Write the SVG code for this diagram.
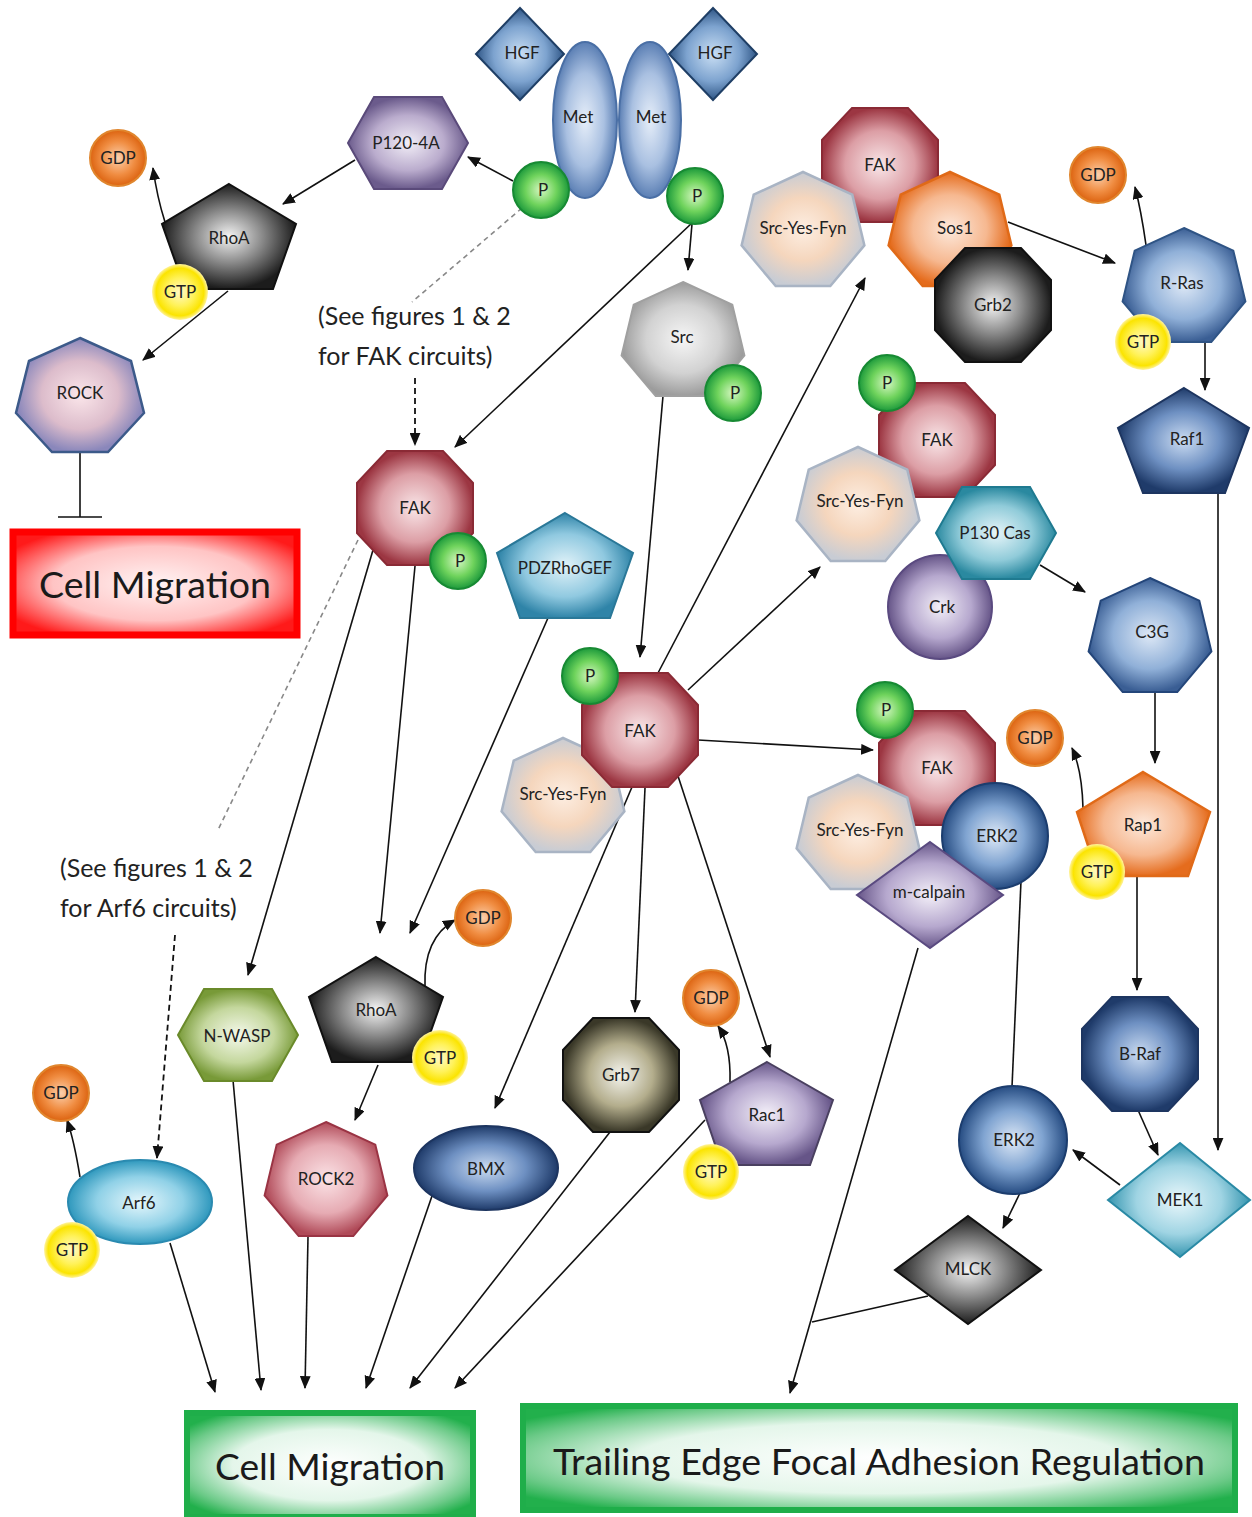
<svg xmlns="http://www.w3.org/2000/svg" xmlns:xlink="http://www.w3.org/1999/xlink" width="1252" height="1517" viewBox="0 0 1252 1517">
<style>
.lbl{font-family:Lato,"Open Sans","Liberation Sans",sans-serif;font-size:17px;fill:#222;text-anchor:middle}
.note{font-family:Lato,"Open Sans","Liberation Sans",sans-serif;font-size:25px;fill:#222}
.big{font-family:Lato,"Open Sans","Liberation Sans",sans-serif;font-size:37px;fill:#1a1a1a;text-anchor:middle}
.ar{fill:none;stroke:#111;stroke-width:1.6;marker-end:url(#ah)}
.ln{fill:none;stroke:#111;stroke-width:1.6}
.dg{fill:none;stroke:#888;stroke-width:1.6;stroke-dasharray:5 4}
.db{fill:none;stroke:#111;stroke-width:1.8;stroke-dasharray:6 4;marker-end:url(#ah)}
</style>
<defs>
<marker id="ah" viewBox="0 0 12 10" refX="11" refY="5" markerWidth="13" markerHeight="11" markerUnits="userSpaceOnUse" orient="auto">
<path d="M0,0 L12,5 L0,10 Z" fill="#111"/>
</marker>
<polygon id="oct" points="-28,-57 28,-57 58,-25 58,25 28,57 -28,57 -58,25 -58,-25"/>
<polygon id="hept" points="0,-60 49.3,-37.4 61.4,13.4 27.3,54.1 -27.3,54.1 -61.4,13.4 -49.3,-37.4"/>
<polygon id="pent" points="0,-58 67,-18 44,47 -44,47 -67,-18"/>
<polygon id="hex" points="-60,0 -34,-46 34,-46 60,0 34,46 -34,46"/>
<circle id="sm" r="28"/>
<radialGradient id="gFAK"><stop offset="0" stop-color="#f9e6e8"/><stop offset="0.6" stop-color="#dc9ea5"/><stop offset="1" stop-color="#9c3642"/></radialGradient>
<radialGradient id="gSYF"><stop offset="0" stop-color="#fdeee2"/><stop offset="0.55" stop-color="#f5d6bd"/><stop offset="1" stop-color="#c8ccd4"/></radialGradient>
<radialGradient id="gSos"><stop offset="0" stop-color="#fde9dc"/><stop offset="0.6" stop-color="#f6b890"/><stop offset="1" stop-color="#e56c1d"/></radialGradient>
<radialGradient id="gBlk"><stop offset="0" stop-color="#f4f4f4"/><stop offset="0.5" stop-color="#8a8a8a"/><stop offset="1" stop-color="#1c1c1c"/></radialGradient>
<radialGradient id="gBlue"><stop offset="0" stop-color="#dde8f6"/><stop offset="0.6" stop-color="#90b0d8"/><stop offset="1" stop-color="#3a5e94"/></radialGradient>
<radialGradient id="gDBlue"><stop offset="0" stop-color="#cbdcf2"/><stop offset="0.55" stop-color="#6e90c2"/><stop offset="1" stop-color="#1f3b6a"/></radialGradient>
<radialGradient id="gGDP"><stop offset="0" stop-color="#fcd0ad"/><stop offset="0.6" stop-color="#f08d42"/><stop offset="1" stop-color="#dc6310"/></radialGradient>
<radialGradient id="gGTP"><stop offset="0" stop-color="#fff8c8"/><stop offset="0.5" stop-color="#fff25a"/><stop offset="0.85" stop-color="#fbe400"/><stop offset="1" stop-color="#fff3a0"/></radialGradient>
<radialGradient id="gP"><stop offset="0" stop-color="#d6f7c2"/><stop offset="0.55" stop-color="#6fd35c"/><stop offset="1" stop-color="#1d9a3c"/></radialGradient>
<radialGradient id="gHGF"><stop offset="0" stop-color="#cadff4"/><stop offset="0.6" stop-color="#7da3cf"/><stop offset="1" stop-color="#2f5686"/></radialGradient>
<radialGradient id="gMet"><stop offset="0" stop-color="#e6eef9"/><stop offset="0.6" stop-color="#a9c0e1"/><stop offset="1" stop-color="#5b7fb4"/></radialGradient>
<radialGradient id="gP120"><stop offset="0" stop-color="#f2eef7"/><stop offset="0.6" stop-color="#baaccd"/><stop offset="1" stop-color="#6b5b8c"/></radialGradient>
<radialGradient id="gROCK"><stop offset="0" stop-color="#fbe6ea"/><stop offset="0.6" stop-color="#dcbccb"/><stop offset="1" stop-color="#8a87bb"/></radialGradient>
<radialGradient id="gPDZ"><stop offset="0" stop-color="#e2f3f9"/><stop offset="0.6" stop-color="#90c9e0"/><stop offset="1" stop-color="#2f84a8"/></radialGradient>
<radialGradient id="gP130"><stop offset="0" stop-color="#e6f5f9"/><stop offset="0.6" stop-color="#90cbd9"/><stop offset="1" stop-color="#2a89a0"/></radialGradient>
<radialGradient id="gPur"><stop offset="0" stop-color="#f3eff8"/><stop offset="0.6" stop-color="#b6a8ce"/><stop offset="1" stop-color="#665588"/></radialGradient>
<radialGradient id="gERK"><stop offset="0" stop-color="#dee9f7"/><stop offset="0.55" stop-color="#80a4d1"/><stop offset="1" stop-color="#264c82"/></radialGradient>
<radialGradient id="gMEK"><stop offset="0" stop-color="#eaf7fb"/><stop offset="0.6" stop-color="#9fd4e3"/><stop offset="1" stop-color="#3696b0"/></radialGradient>
<radialGradient id="gNW"><stop offset="0" stop-color="#f5f9ec"/><stop offset="0.6" stop-color="#c4d79d"/><stop offset="1" stop-color="#789a38"/></radialGradient>
<radialGradient id="gArf"><stop offset="0" stop-color="#e6f7fc"/><stop offset="0.6" stop-color="#90d1e7"/><stop offset="1" stop-color="#2f98bd"/></radialGradient>
<radialGradient id="gGrb7"><stop offset="0" stop-color="#f5f5ef"/><stop offset="0.55" stop-color="#b3ad8c"/><stop offset="1" stop-color="#3a3828"/></radialGradient>
<radialGradient id="gROCK2"><stop offset="0" stop-color="#fbe3e6"/><stop offset="0.6" stop-color="#e6abb3"/><stop offset="1" stop-color="#b04a58"/></radialGradient>
<radialGradient id="gSrc"><stop offset="0" stop-color="#f6f6f6"/><stop offset="0.6" stop-color="#d2d2d2"/><stop offset="1" stop-color="#9c9c9c"/></radialGradient>
<radialGradient id="gRed" r="0.6"><stop offset="0" stop-color="#fff4f4"/><stop offset="0.6" stop-color="#ffc4c4"/><stop offset="0.85" stop-color="#ff5a5a"/><stop offset="1" stop-color="#ff1a1a"/></radialGradient>
<radialGradient id="gGreen" r="0.62"><stop offset="0" stop-color="#ffffff"/><stop offset="0.55" stop-color="#e4f6ea"/><stop offset="0.85" stop-color="#6cca88"/><stop offset="1" stop-color="#22b04c"/></radialGradient>
</defs>
<rect width="1252" height="1517" fill="#fff"/>

<g id="connectors">
<path class="ar" d="M513,181 L468,157"/>
<path class="ar" d="M355,160 L283,204"/>
<path class="ar" d="M165,222 Q157,197 153,168"/>
<path class="ar" d="M228,291 L143,360"/>
<path class="ln" d="M80,453 L80,517 M58,517 L102,517"/>
<path class="dg" d="M522,208 L412,302"/>
<path class="db" d="M415,378 L415,445"/>
<path class="ar" d="M693,222 L455,447"/>
<path class="ar" d="M692,224 L688,270"/>
<path class="ar" d="M663,396 L640,657"/>
<path class="ar" d="M658,673 L865,278"/>
<path class="ar" d="M688,690 L820,567"/>
<path class="ar" d="M698,740 L873,750"/>
<path class="ar" d="M1008,222 L1115,263"/>
<path class="ar" d="M1146,245 Q1141,210 1135,187"/>
<path class="ar" d="M1205,343 L1205,390"/>
<path class="ar" d="M1218,493 L1218,1150"/>
<path class="ar" d="M1040,565 L1085,592"/>
<path class="ar" d="M1155,690 L1155,763"/>
<path class="ar" d="M1083,808 Q1082,770 1072,748"/>
<path class="ar" d="M1137,876 L1137,990"/>
<path class="ar" d="M1138,1110 L1158,1155"/>
<path class="ar" d="M1120,1185 L1073,1150"/>
<path class="ar" d="M1012,1087 L1022,858"/>
<path class="ar" d="M1020,1193 L1003,1228"/>
<path class="ar" d="M918,948 L790,1393"/>
<path class="ln" d="M928,1296 L812,1322"/>
<path class="dg" d="M358,540 L218,830"/>
<path class="db" d="M175,935 L157,1158"/>
<path class="ar" d="M373,550 L248,975"/>
<path class="ar" d="M415,566 L380,933"/>
<path class="ar" d="M548,618 L410,933"/>
<path class="ar" d="M425,987 Q423,938 455,920"/>
<path class="ar" d="M378,1065 L355,1120"/>
<path class="ar" d="M80,1177 Q74,1140 67,1120"/>
<path class="ar" d="M645,788 L635,1012"/>
<path class="ar" d="M632,787 L495,1108"/>
<path class="ar" d="M678,776 L770,1057"/>
<path class="ar" d="M730,1082 Q731,1045 718,1026"/>
<path class="ar" d="M170,1243 L215,1392"/>
<path class="ar" d="M233,1080 L261,1390"/>
<path class="ar" d="M308,1237 L305,1388"/>
<path class="ar" d="M432,1196 L366,1388"/>
<path class="ar" d="M610,1132 L410,1388"/>
<path class="ar" d="M705,1120 L455,1388"/>
</g>

<g id="hgf1"><polygon points="520,8 564,54 520,100 476,54" fill="url(#gHGF)" stroke="#1f3f66" stroke-width="2"/><text class="lbl" x="522" y="59">HGF</text></g>
<g id="hgf2"><polygon points="713,8 757,54 713,100 669,54" fill="url(#gHGF)" stroke="#1f3f66" stroke-width="2"/><text class="lbl" x="715" y="59">HGF</text></g>
<g id="met1"><ellipse cx="585" cy="120" rx="32" ry="78" fill="url(#gMet)" stroke="#4a6fa5" stroke-width="2"/><text class="lbl" x="578" y="123">Met</text></g>
<g id="met2"><ellipse cx="650" cy="120" rx="31" ry="78" fill="url(#gMet)" stroke="#4a6fa5" stroke-width="2"/><text class="lbl" x="651" y="123">Met</text></g>
<g id="pmet1"><use href="#sm" x="541" y="190" fill="url(#gP)" stroke="#178a33" stroke-width="2"/><text class="lbl" x="543" y="196">P</text></g>
<g id="pmet2"><use href="#sm" x="695" y="196" fill="url(#gP)" stroke="#178a33" stroke-width="2"/><text class="lbl" x="697" y="202">P</text></g>

<g id="p120"><use href="#hex" x="408" y="143" fill="url(#gP120)" stroke="#5a4a7a" stroke-width="2"/><text class="lbl" x="406" y="149">P120-4A</text></g>
<g id="gdp1"><use href="#sm" x="118" y="158" fill="url(#gGDP)" stroke="#e0862e" stroke-width="2"/><text class="lbl" x="118" y="164">GDP</text></g>
<g id="rhoa1"><use href="#pent" x="229" y="242" fill="url(#gBlk)" stroke="#111" stroke-width="2"/><text class="lbl" x="229" y="244">RhoA</text></g>
<g id="gtp1"><use href="#sm" x="180" y="292" fill="url(#gGTP)"/><text class="lbl" x="180" y="298">GTP</text></g>
<g id="rock"><polygon points="80,338 131,361 144,413 108,452 52,452 16,413 29,361" fill="url(#gROCK)" stroke="#3c5a8a" stroke-width="2.5"/><text class="lbl" x="80" y="399">ROCK</text></g>
<g id="cm_red"><rect x="13" y="532" width="284" height="103" fill="url(#gRed)" stroke="#ff0000" stroke-width="7"/><text class="big" x="155" y="598" textLength="232" lengthAdjust="spacingAndGlyphs">Cell Migration</text></g>

<g id="note1"><text class="note" x="318" y="325">(See figures 1 &amp; 2</text><text class="note" x="318" y="365">for FAK circuits)</text></g>

<g id="fak1"><use href="#oct" x="415" y="508" fill="url(#gFAK)" stroke="#8a2a35" stroke-width="2"/><text class="lbl" x="415" y="514">FAK</text></g>
<g id="pfak1"><use href="#sm" x="458" y="561" fill="url(#gP)" stroke="#178a33" stroke-width="2"/><text class="lbl" x="460" y="567">P</text></g>

<g id="src"><use href="#hept" x="683" y="342" fill="url(#gSrc)" stroke="#a0a0a0" stroke-width="2"/><text class="lbl" x="682" y="343">Src</text></g>
<g id="psrc"><use href="#sm" x="733" y="393" fill="url(#gP)" stroke="#178a33" stroke-width="2"/><text class="lbl" x="735" y="399">P</text></g>

<g id="fak_top"><use href="#oct" x="880" y="165" fill="url(#gFAK)" stroke="#8a2a35" stroke-width="2"/><text class="lbl" x="880" y="171">FAK</text></g>
<g id="syf_top"><use href="#hept" x="803" y="232" fill="url(#gSYF)" stroke="#a9b4c4" stroke-width="2.5"/><text class="lbl" x="803" y="234">Src-Yes-Fyn</text></g>
<g id="sos1"><use href="#hept" x="950" y="232" fill="url(#gSos)" stroke="#e06a18" stroke-width="2.5"/><text class="lbl" x="955" y="234">Sos1</text></g>
<g id="grb2"><use href="#oct" x="993" y="305" fill="url(#gBlk)" stroke="#111" stroke-width="2"/><text class="lbl" x="993" y="311">Grb2</text></g>

<g id="gdp2"><use href="#sm" x="1098" y="175" fill="url(#gGDP)" stroke="#e0862e" stroke-width="2"/><text class="lbl" x="1098" y="181">GDP</text></g>
<g id="rras"><use href="#hept" x="1184" y="288" fill="url(#gBlue)" stroke="#2f5485" stroke-width="2"/><text class="lbl" x="1182" y="289">R-Ras</text></g>
<g id="gtp2"><use href="#sm" x="1143" y="342" fill="url(#gGTP)"/><text class="lbl" x="1143" y="348">GTP</text></g>
<g id="raf1"><polygon points="1184,388 1249,428 1225,493 1143,493 1118,428" fill="url(#gDBlue)" stroke="#1d3560" stroke-width="2"/><text class="lbl" x="1187" y="445">Raf1</text></g>

<g id="fak2"><use href="#oct" x="937" y="440" fill="url(#gFAK)" stroke="#8a2a35" stroke-width="2"/><text class="lbl" x="937" y="446">FAK</text></g>
<g id="pfak2"><use href="#sm" x="887" y="383" fill="url(#gP)" stroke="#178a33" stroke-width="2"/><text class="lbl" x="887" y="389">P</text></g>
<g id="syf2"><use href="#hept" x="858" y="507" fill="url(#gSYF)" stroke="#a9b4c4" stroke-width="2.5"/><text class="lbl" x="860" y="507">Src-Yes-Fyn</text></g>
<g id="crk"><circle cx="940" cy="607" r="52" fill="url(#gPur)" stroke="#5a4a80" stroke-width="2"/><text class="lbl" x="942" y="613">Crk</text></g>
<g id="p130"><use href="#hex" x="996" y="533" fill="url(#gP130)" stroke="#1f7a90" stroke-width="2"/><text class="lbl" x="995" y="539">P130 Cas</text></g>
<g id="c3g"><use href="#hept" x="1150" y="638" fill="url(#gBlue)" stroke="#24467a" stroke-width="2"/><text class="lbl" x="1152" y="638">C3G</text></g>

<g id="pdz"><polygon points="565,513 633,553 610,618 520,618 497,553" fill="url(#gPDZ)" stroke="#2a7898" stroke-width="2"/><text class="lbl" x="565" y="574">PDZRhoGEF</text></g>

<g id="syf_mid"><use href="#hept" x="563" y="798" fill="url(#gSYF)" stroke="#a9b4c4" stroke-width="2.5"/><text class="lbl" x="563" y="800">Src-Yes-Fyn</text></g>
<g id="fak_mid"><use href="#oct" x="640" y="730" fill="url(#gFAK)" stroke="#8a2a35" stroke-width="2"/><text class="lbl" x="640" y="737">FAK</text></g>
<g id="pfakmid"><use href="#sm" x="590" y="676" fill="url(#gP)" stroke="#178a33" stroke-width="2"/><text class="lbl" x="590" y="682">P</text></g>

<g id="fak3"><use href="#oct" x="937" y="768" fill="url(#gFAK)" stroke="#8a2a35" stroke-width="2"/><text class="lbl" x="937" y="774">FAK</text></g>
<g id="pfak3"><use href="#sm" x="885" y="710" fill="url(#gP)" stroke="#178a33" stroke-width="2"/><text class="lbl" x="886" y="716">P</text></g>
<g id="syf3"><use href="#hept" x="858" y="835" fill="url(#gSYF)" stroke="#a9b4c4" stroke-width="2.5"/><text class="lbl" x="860" y="836">Src-Yes-Fyn</text></g>
<g id="erk2a"><circle cx="995" cy="836" r="53" fill="url(#gERK)" stroke="#1c3d6e" stroke-width="2"/><text class="lbl" x="997" y="842">ERK2</text></g>
<g id="mcalpain"><polygon points="930,842 1003,895 930,948 857,895" fill="url(#gPur)" stroke="#5a4a80" stroke-width="2"/><text class="lbl" x="929" y="898">m-calpain</text></g>

<g id="gdp3"><use href="#sm" x="1035" y="738" fill="url(#gGDP)" stroke="#e0862e" stroke-width="2"/><text class="lbl" x="1035" y="744">GDP</text></g>
<g id="rap1"><polygon points="1143,772 1210,812 1188,876 1098,876 1077,812" fill="url(#gSos)" stroke="#e06a18" stroke-width="2.5"/><text class="lbl" x="1143" y="831">Rap1</text></g>
<g id="gtp3"><use href="#sm" x="1097" y="872" fill="url(#gGTP)"/><text class="lbl" x="1097" y="878">GTP</text></g>
<g id="braf"><use href="#oct" x="1140" y="1054" fill="url(#gDBlue)" stroke="#1d3560" stroke-width="2"/><text class="lbl" x="1140" y="1060">B-Raf</text></g>
<g id="mek1"><polygon points="1180,1143 1250,1200 1180,1257 1108,1200" fill="url(#gMEK)" stroke="#2a8aa5" stroke-width="2"/><text class="lbl" x="1180" y="1206">MEK1</text></g>
<g id="erk2b"><circle cx="1013" cy="1140" r="54" fill="url(#gERK)" stroke="#1c3d6e" stroke-width="2"/><text class="lbl" x="1014" y="1146">ERK2</text></g>
<g id="mlck"><polygon points="968,1216 1041,1270 968,1324 895,1270" fill="url(#gBlk)" stroke="#111" stroke-width="2"/><text class="lbl" x="968" y="1275">MLCK</text></g>

<g id="note2"><text class="note" x="60" y="877">(See figures 1 &amp; 2</text><text class="note" x="60" y="917">for Arf6 circuits)</text></g>

<g id="gdp4"><use href="#sm" x="483" y="918" fill="url(#gGDP)" stroke="#e0862e" stroke-width="2"/><text class="lbl" x="483" y="924">GDP</text></g>
<g id="rhoa2"><use href="#pent" x="376" y="1015" fill="url(#gBlk)" stroke="#111" stroke-width="2"/><text class="lbl" x="376" y="1016">RhoA</text></g>
<g id="gtp4"><use href="#sm" x="440" y="1058" fill="url(#gGTP)"/><text class="lbl" x="440" y="1064">GTP</text></g>
<g id="rock2"><use href="#hept" x="326" y="1182" fill="url(#gROCK2)" stroke="#9a3444" stroke-width="2"/><text class="lbl" x="326" y="1185">ROCK2</text></g>
<g id="nwasp"><use href="#hex" x="238" y="1035" fill="url(#gNW)" stroke="#6a8a2a" stroke-width="2"/><text class="lbl" x="237" y="1042">N-WASP</text></g>
<g id="gdp5"><use href="#sm" x="61" y="1093" fill="url(#gGDP)" stroke="#e0862e" stroke-width="2"/><text class="lbl" x="61" y="1099">GDP</text></g>
<g id="arf6"><ellipse cx="140" cy="1202" rx="72" ry="42" fill="url(#gArf)" stroke="#2a8ab0" stroke-width="2"/><text class="lbl" x="139" y="1209">Arf6</text></g>
<g id="gtp5"><use href="#sm" x="72" y="1250" fill="url(#gGTP)"/><text class="lbl" x="72" y="1256">GTP</text></g>
<g id="bmx"><ellipse cx="486" cy="1168" rx="72" ry="42" fill="url(#gDBlue)" stroke="#1d3560" stroke-width="2"/><text class="lbl" x="486" y="1175">BMX</text></g>
<g id="grb7"><use href="#oct" x="621" y="1075" fill="url(#gGrb7)" stroke="#111" stroke-width="2"/><text class="lbl" x="621" y="1081">Grb7</text></g>
<g id="gdp6"><use href="#sm" x="711" y="998" fill="url(#gGDP)" stroke="#e0862e" stroke-width="2"/><text class="lbl" x="711" y="1004">GDP</text></g>
<g id="rac1"><polygon points="767,1062 833,1100 810,1165 722,1165 700,1100" fill="url(#gPur)" stroke="#4a4060" stroke-width="2"/><text class="lbl" x="767" y="1121">Rac1</text></g>
<g id="gtp6"><use href="#sm" x="711" y="1172" fill="url(#gGTP)"/><text class="lbl" x="711" y="1178">GTP</text></g>

<g id="cm_green"><rect x="187" y="1413" width="286" height="104" fill="url(#gGreen)" stroke="#1fae4a" stroke-width="6"/><text class="big" x="330" y="1480" textLength="230" lengthAdjust="spacingAndGlyphs">Cell Migration</text></g>
<g id="trailing"><rect x="523" y="1406" width="712" height="104" fill="url(#gGreen)" stroke="#1fae4a" stroke-width="6"/><text class="big" x="879" y="1475" textLength="652" lengthAdjust="spacingAndGlyphs">Trailing Edge Focal Adhesion Regulation</text></g>
</svg>
